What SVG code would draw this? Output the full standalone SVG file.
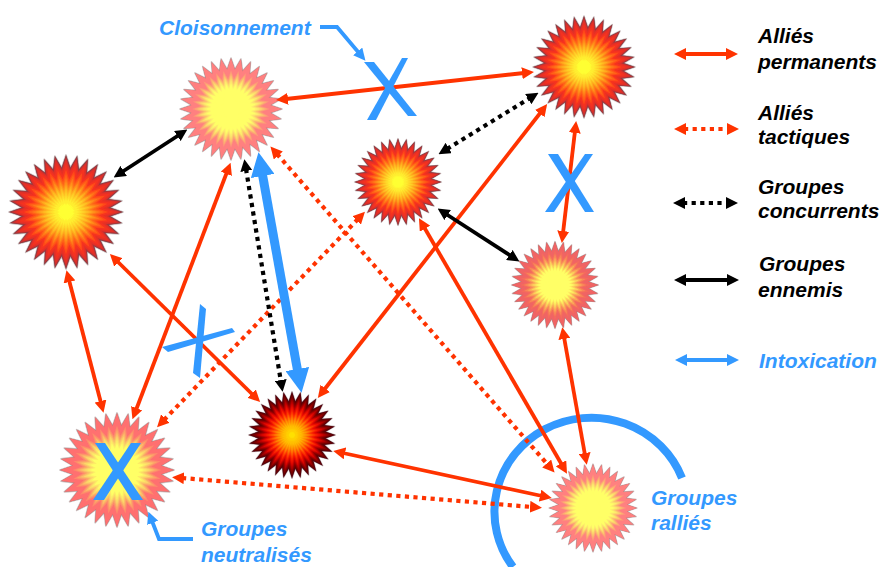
<svg xmlns="http://www.w3.org/2000/svg" width="880" height="567" viewBox="0 0 880 567">
<style>
text{font-family:"Liberation Sans",Arial,sans-serif;font-weight:bold;font-style:italic;font-size:21px}
.k{fill:#000}.b{fill:#3399ff}
.c{fill:none}
.red{stroke:#ff3300;stroke-width:3.8;marker-start:url(#mr);marker-end:url(#mr)}
.blk{stroke:#000;stroke-width:3.8;marker-start:url(#mk);marker-end:url(#mk)}
.blu{stroke:#3399ff;stroke-width:3.8;marker-start:url(#mb);marker-end:url(#mb)}
.dot{stroke-width:4.2;stroke-dasharray:4.2 4.4}
.call{stroke:#3399ff;stroke-width:3.8;marker-end:url(#mb)}
.x{fill:#3399ff}
.halo{stroke:#8a7070;stroke-opacity:.45;stroke-width:.03;stroke-linejoin:round;fill:#8a7070}
</style>
<defs>
<marker id="mr" viewBox="0 0 12 12" refX="2" refY="6" markerWidth="12" markerHeight="12" markerUnits="userSpaceOnUse" orient="auto-start-reverse"><path d="M0,0 12,6 0,12z" fill="#ff3300"/></marker>
<marker id="mk" viewBox="0 0 12 12" refX="2" refY="6" markerWidth="12" markerHeight="12" markerUnits="userSpaceOnUse" orient="auto-start-reverse"><path d="M0,0 12,6 0,12z" fill="#000"/></marker>
<marker id="mb" viewBox="0 0 12 12" refX="2" refY="6" markerWidth="12" markerHeight="12" markerUnits="userSpaceOnUse" orient="auto-start-reverse"><path d="M0,0 12,6 0,12z" fill="#3399ff"/></marker>
<marker id="mB" viewBox="0 0 24 24" refX="4" refY="12" markerWidth="24" markerHeight="24" markerUnits="userSpaceOnUse" orient="auto-start-reverse"><path d="M0,0 24,12 0,24z" fill="#3399ff"/></marker>
<polygon id="r1" points="0,-1 .341,0 0,1 -.341,0"/>
<g id="r2"><use href="#r1"/><use href="#r1" transform="rotate(90)"/></g>
<g id="r4"><use href="#r2"/><use href="#r2" transform="rotate(45)"/></g>
<g id="r8"><use href="#r4"/><use href="#r4" transform="rotate(22.5)"/></g>
<g id="s"><use href="#r8"/><use href="#r8" transform="rotate(11.25)"/></g>
<g id="starRed">
<use href="#s" class="halo"/>
<use href="#s" fill="#8a3a44"/>
<use href="#s" fill="#a8383a" transform="scale(.98)"/>
<use href="#s" fill="#cc3030" transform="scale(.955)"/>
<use href="#s" fill="#e63026" transform="scale(.92)"/>
<use href="#s" fill="#f53220" transform="scale(.84)"/>
<use href="#s" fill="#ff4a18" transform="scale(.74)"/>
<use href="#s" fill="#ff6218" transform="scale(.67)"/>
<use href="#s" fill="#ff7a18" transform="scale(.6)"/>
<use href="#s" fill="#ff921a" transform="scale(.54)"/>
<use href="#s" fill="#ffaa1e" transform="scale(.48)"/>
<use href="#s" fill="#ffbe22" transform="scale(.42)"/>
<use href="#s" fill="#ffd028" transform="scale(.36)"/>
<use href="#s" fill="#ffe02c" transform="scale(.3)"/>
<use href="#s" fill="#ffee30" transform="scale(.24)"/>
<use href="#s" fill="#ffff33" transform="scale(.16)"/>
</g>
<g id="starDeep">
<use href="#s" class="halo"/>
<use href="#s" fill="#500010"/>
<use href="#s" fill="#680000" transform="scale(.96)"/>
<use href="#s" fill="#800000" transform="scale(.9)"/>
<use href="#s" fill="#a00000" transform="scale(.84)"/>
<use href="#s" fill="#c00000" transform="scale(.78)"/>
<use href="#s" fill="#dc0800" transform="scale(.72)"/>
<use href="#s" fill="#f01000" transform="scale(.66)"/>
<use href="#s" fill="#f82800" transform="scale(.6)"/>
<use href="#s" fill="#ff4000" transform="scale(.54)"/>
<use href="#s" fill="#ff6000" transform="scale(.48)"/>
<use href="#s" fill="#ff8000" transform="scale(.42)"/>
<use href="#s" fill="#ff9800" transform="scale(.36)"/>
<use href="#s" fill="#ffb000" transform="scale(.3)"/>
<use href="#s" fill="#ffc000" transform="scale(.24)"/>
<use href="#s" fill="#ffd000" transform="scale(.16)"/>
<use href="#s" fill="#ffe000" transform="scale(.08)"/>
</g>
<g id="starPink">
<use href="#s" class="halo"/>
<use href="#s" fill="#ff8080"/>
<use href="#s" fill="#fd9a78" transform="scale(.76)"/>
<use href="#s" fill="#fcb072" transform="scale(.71)"/>
<use href="#s" fill="#fcc86e" transform="scale(.66)"/>
<use href="#s" fill="#fcdc6c" transform="scale(.61)"/>
<use href="#s" fill="#fdee6c" transform="scale(.56)"/>
<use href="#s" fill="#ffff66" transform="scale(.5)"/>
</g>
<g id="starCoral">
<use href="#s" class="halo"/>
<use href="#s" fill="#f06464"/>
<use href="#s" fill="#f56c5c" transform="scale(.8)"/>
<use href="#s" fill="#f88858" transform="scale(.72)"/>
<use href="#s" fill="#fbaa58" transform="scale(.64)"/>
<use href="#s" fill="#fcd05c" transform="scale(.56)"/>
<use href="#s" fill="#fef060" transform="scale(.48)"/>
<use href="#s" fill="#ffff66" transform="scale(.42)"/>
</g>
<g id="starRose">
<use href="#s" class="halo"/>
<use href="#s" fill="#ff7070"/>
<use href="#s" fill="#fd8a6c" transform="scale(.78)"/>
<use href="#s" fill="#fca468" transform="scale(.72)"/>
<use href="#s" fill="#fbc068" transform="scale(.66)"/>
<use href="#s" fill="#fcd868" transform="scale(.6)"/>
<use href="#s" fill="#fdec66" transform="scale(.54)"/>
<use href="#s" fill="#ffff66" transform="scale(.48)"/>
</g>
</defs>
<g id="rally-arc"><path d="M682,478A97,94 0 1 0 513,567" fill="none" stroke="#3399ff" stroke-width="8"/></g>
<g id="node-top-left"><use href="#starPink" transform="translate(231,109) scale(51)"/></g>
<g id="node-left"><use href="#starRed" transform="translate(66,212) scale(57)"/></g>
<g id="node-top-right"><use href="#starRed" transform="translate(584,67) scale(51)"/></g>
<g id="node-center"><use href="#starRed" transform="translate(398,182) scale(43.5)"/></g>
<g id="node-right"><use href="#starCoral" transform="translate(555,285) scale(43.5)"/></g>
<g id="node-bottom-center"><use href="#starDeep" transform="translate(292,435) scale(43.5)"/></g>
<g id="node-bottom-left"><use href="#starRose" transform="translate(117,470) scale(57)"/></g>
<g id="node-bottom-right"><use href="#starPink" transform="translate(593,508) scale(44)"/></g>
<g id="connectors" class="c">
<path class="red" d="M286,99 524,73"/>
<path class="red" d="M541,112 324,390"/>
<path class="red" d="M575,131 563,233"/>
<path class="red" d="M424,227 562,465"/>
<path class="red" d="M564,337 585,455"/>
<path class="red" d="M343,453 542,496"/>
<path class="red" d="M69,280 101,403"/>
<path class="red" d="M117,261 253,395"/>
<path class="red" d="M227,172 136,410"/>
<path class="red dot" d="M277,154 548,465"/>
<path class="red dot" d="M358,219 164,420"/>
<path class="red dot" d="M182,478 532,507"/>
<path class="blk" d="M122,172 179,135"/>
<path class="blk" d="M446,214 511,256"/>
<path class="blk dot" d="M246,169 281,382"/>
<path class="blk dot" d="M447,149 530,98"/>
<path d="M262,172 298,373" stroke="#3399ff" stroke-width="9" marker-start="url(#mB)" marker-end="url(#mB)"/>
<path class="call" d="M320,27H337L359,53"/>
<path class="call" d="M193,539H159L152,521"/>
<path class="red" d="M684,54H728"/>
<path class="red dot" d="M684,129H729"/>
<path class="blk dot" d="M683,203H728"/>
<path class="blk" d="M684,280H729"/>
<path class="blu" d="M685,360H729"/>
</g>
<g id="cross-top"><path class="x" d="M364,62H374L417,116H408Z"/><path class="x" d="M402,58H408L376,120H367Z"/></g>
<g id="cross-right"><path class="x" d="M548,154H558L594,212H585Z"/><path class="x" d="M585,154H593L554,212H545Z"/></g>
<g id="cross-tilted"><path class="x" d="M200,304 206,309 200,378 193,373Z"/><path class="x" d="M162,347 232,328 235,332 168,352Z"/></g>
<g id="cross-neutralised"><path class="x" d="M95,443H105L143,500H132Z"/><path class="x" d="M131,443H141L104,500H93Z"/></g>
<g id="labels">
<text class="b" x="159" y="35">Cloisonnement</text>
<text class="b" x="201" y="536">Groupes</text>
<text class="b" x="201" y="562">neutralisés</text>
<text class="b" x="651" y="505">Groupes</text>
<text class="b" x="651" y="530">ralliés</text>
<text class="k" x="758" y="43">Alliés</text>
<text class="k" x="758" y="69">permanents</text>
<text class="k" x="758" y="120">Alliés</text>
<text class="k" x="758" y="144">tactiques</text>
<text class="k" x="758" y="194">Groupes</text>
<text class="k" x="758" y="218">concurrents</text>
<text class="k" x="759" y="271">Groupes</text>
<text class="k" x="758" y="297">ennemis</text>
<text class="b" x="759" y="368">Intoxication</text>
</g>
</svg>
